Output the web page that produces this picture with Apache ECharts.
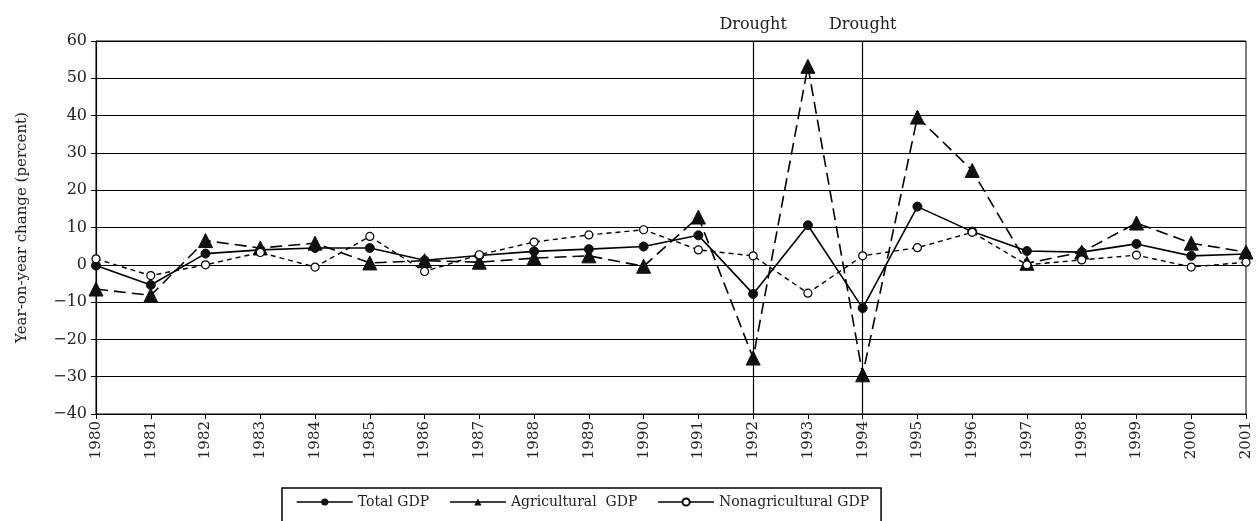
<!DOCTYPE html>
<html>
<head>
<meta charset="utf-8">
<script src="https://cdn.jsdelivr.net/npm/echarts@6/dist/echarts.min.js"></script>
<style>html,body{margin:0;padding:0;background:#fff;}#c{width:1260px;height:521px;}</style>
</head>
<body>
<div id="c"></div>
<script>
const years = [1980,1981,1982,1983,1984,1985,1986,1987,1988,1989,1990,1991,1992,1993,1994,1995,1996,1997,1998,1999,2000,2001];
const totalGDP = [-0.2,-5.4,3.0,4.0,4.5,4.5,1.2,2.5,3.6,4.2,4.9,7.9,-7.8,10.6,-11.6,15.6,8.9,3.7,3.4,5.6,2.4,2.9];
const agriGDP = [-6.5,-8.2,6.5,4.5,5.8,0.5,1.1,0.7,1.8,2.4,-0.4,12.8,-25.0,53.2,-29.5,39.6,25.3,0.4,3.4,11.2,5.8,3.4];
const nonAgriGDP = [1.6,-2.9,0.0,3.3,-0.6,7.6,-1.8,2.7,6.1,8.0,9.4,4.0,2.4,-7.6,2.4,4.6,8.7,0.0,1.3,2.6,-0.6,0.7];
const droughtYears = [1992, 1994];
const droughtLabel = 'Drought';
const yTicks = {min: -40, max: 60, step: 10};
const seriesNames = ['Total GDP', 'Agricultural  GDP', 'Nonagricultural GDP'];

const pair = arr => years.map((y, i) => [y, arr[i]]);
const FONT = 'DejaVu Serif';
const chart = echarts.init(document.getElementById('c'));
chart.setOption({
  animation: false,
  backgroundColor: '#fff',
  textStyle: {fontFamily: FONT, color: '#222'},
  grid: {left: 96, right: 14, top: 41, bottom: 107, show: true, borderColor: '#000', borderWidth: 1},
  legend: {
    bottom: -14, left: 282,
    width: 620,
    data: seriesNames,
    itemWidth: 56, itemHeight: 9, itemGap: 20,
    borderColor: '#000', borderWidth: 1.5,
    padding: [7, 12, 26, 14],
    textStyle: {fontFamily: FONT, fontSize: 14, color: '#222'},
    lineStyle: {type: 'solid', width: 1.5, color: '#000'}
  },
  xAxis: {
    type: 'value', min: years[0], max: years[years.length - 1], interval: 1,
    axisLine: {onZero: false, lineStyle: {color: '#000', width: 1.2}},
    axisTick: {show: true, length: 5, lineStyle: {color: '#000'}},
    splitLine: {show: false},
    axisLabel: {rotate: 90, fontSize: 15, color: '#222', fontFamily: FONT, margin: 7, formatter: v => String(v)}
  },
  yAxis: {
    type: 'value', min: yTicks.min, max: yTicks.max, interval: yTicks.step,
    name: 'Year-on-year change (percent)', nameLocation: 'middle', nameGap: 66,
    nameTextStyle: {fontSize: 15, color: '#222', fontFamily: FONT},
    axisLine: {show: true, lineStyle: {color: '#000', width: 1.2}},
    axisTick: {show: true, length: 5, inside: false, lineStyle: {color: '#000'}},
    splitLine: {show: true, lineStyle: {color: '#000', width: 1.2}},
    axisLabel: {fontSize: 16, color: '#222', fontFamily: FONT, margin: 9, formatter: v => String(v).replace('-', '\u2212')}
  },
  series: [
    {
      name: seriesNames[0], type: 'line', data: pair(totalGDP), z: 4,
      symbol: 'circle', symbolSize: 9,
      lineStyle: {color: '#000', width: 1.6, type: 'solid'},
      itemStyle: {color: '#111', borderColor: '#111'},
      markLine: {
        silent: true, symbol: 'none',
        lineStyle: {color: '#000', width: 1.2, type: 'solid'},
        label: {show: true, position: 'end', formatter: droughtLabel, fontSize: 16, color: '#222', fontFamily: FONT, distance: 8},
        data: droughtYears.map(y => ({xAxis: y}))
      }
    },
    {
      name: seriesNames[1], type: 'line', data: pair(agriGDP), z: 3,
      symbol: 'triangle', symbolSize: 14,
      lineStyle: {color: '#000', width: 1.6, type: [12, 6]},
      itemStyle: {color: '#111', borderColor: '#111'}
    },
    {
      name: seriesNames[2], type: 'line', data: pair(nonAgriGDP), z: 5,
      symbol: 'circle', symbolSize: 8,
      lineStyle: {color: '#000', width: 1.4, type: [5, 4]},
      itemStyle: {color: '#fff', borderColor: '#000', borderWidth: 1.2}
    }
  ]
});
</script>
</body>
</html>
